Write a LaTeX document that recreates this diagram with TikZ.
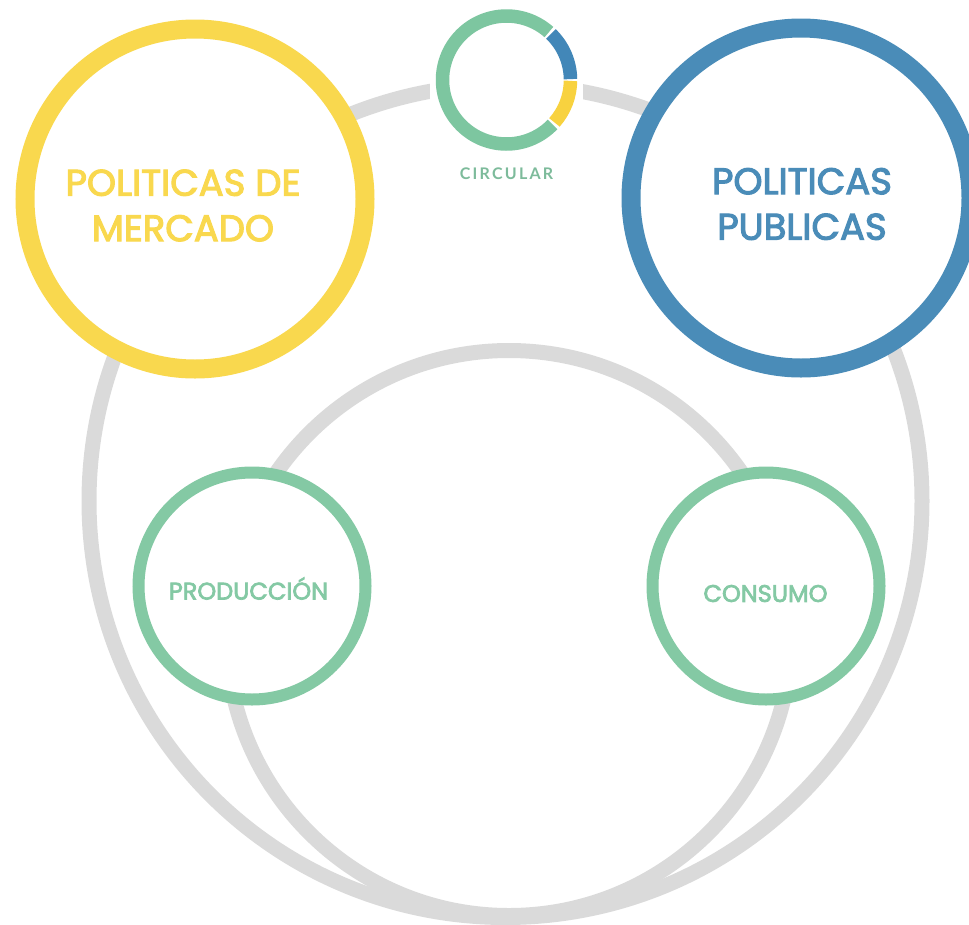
\documentclass[tikz,border=0pt]{standalone}
\usepackage{fontspec}
\setmainfont[FakeBold=3]{Poppins}
\newfontfamily\logofont[LetterSpace=14]{Lato Bold}
\definecolor{cgray}{HTML}{DADADA}
\definecolor{cyellow}{HTML}{F9D84E}
\definecolor{cblue}{HTML}{4A8CB8}
\definecolor{cgreen}{HTML}{84C9A4}
\definecolor{clogo}{HTML}{7DC6A0}
\definecolor{clogoyellow}{HTML}{F8D23F}
\definecolor{clogoblue}{HTML}{4287B8}
\tikzset{
  ring/.style={circle,inner sep=0pt,outer sep=0pt,fill=white},
  grayring/.style={ring,draw=cgray,line width=15pt,fill=none},
  bigring/.style={ring,line width=19pt,minimum size=340pt},
  smallring/.style={ring,draw=cgreen,line width=12pt,minimum size=227pt},
  biglabel/.style={inner sep=0pt,align=center,font=\fontsize{37}{45.5}\selectfont},
  smalllabel/.style={inner sep=0pt,text=cgreen,font=\fontsize{24}{26}\selectfont},
  arcseg/.style={line width=13.5pt}
}
\begin{document}
\begin{tikzpicture}[x=1pt,y=-1pt]
\useasboundingbox (0,0) rectangle (969,924);
\clip (0,0) rectangle (969,924);
\node[grayring,minimum size=833pt] (outer) at (505.5,501) {};
\node[grayring,minimum size=565pt] (inner) at (509,633) {};
\node[bigring,draw=cyellow] (mercado) at (195,199) {};
\node[bigring,draw=cblue] (publicas) at (801,198) {};
\node[smallring] (produccion) at (252,586) {};
\node[smallring] (consumo) at (766,586) {};
\node[biglabel,text=cyellow] (tmercado) at (183,205.5) {POLITICAS DE\\MERCADO};
\node[biglabel,text=cblue] (tpublicas) at (802,204) {POLITICAS\\PUBLICAS};
\node[smalllabel] (tproduccion) at (248.5,588.5) {PRODUCCIÓN};
\node[smalllabel] (tconsumo) at (765.5,593.5) {CONSUMO};
\fill[white] (430,0) rectangle (583,190);
\coordinate (logo) at (506.5,80);
\begin{scope}[x=1pt,y=1pt,shift={(logo)}]
\draw[arcseg,clogo] (48.5:64pt) arc[start angle=48.5,end angle=316,radius=64pt];
\draw[arcseg,clogoblue] (46:64pt) arc[start angle=46,end angle=0.8,radius=64pt];
\draw[arcseg,clogoyellow] (-0.8:64pt) arc[start angle=-0.8,end angle=-41.5,radius=64pt];
\end{scope}
\node[inner sep=0pt,text=clogo!85!gray,font=\logofont\fontsize{16}{16}\selectfont] (tlogo) at (506.5,174) {CIRCULAR};
\end{tikzpicture}
\end{document}
